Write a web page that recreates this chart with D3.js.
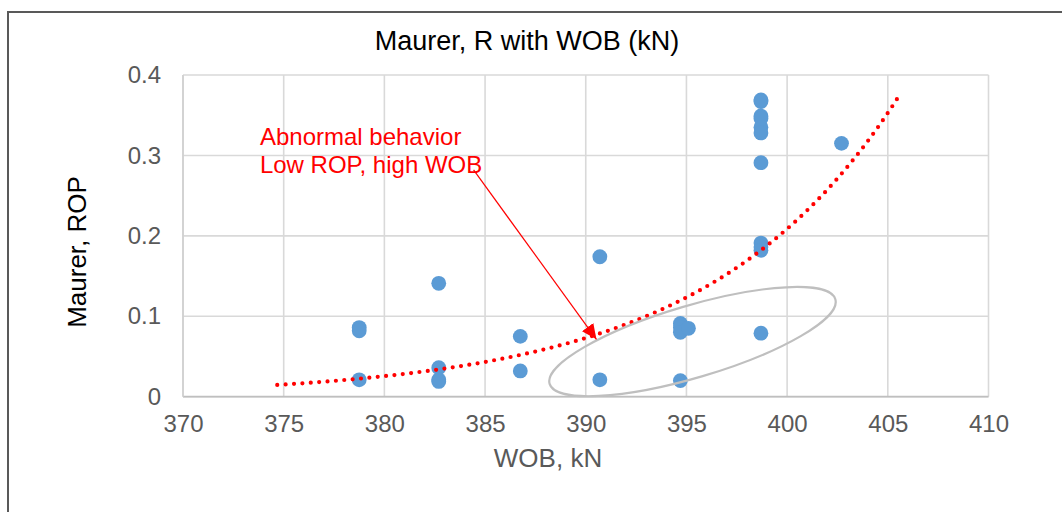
<!DOCTYPE html>
<html><head><meta charset="utf-8">
<script src="https://cdn.jsdelivr.net/npm/d3@7"></script>
<style>
html,body{margin:0;padding:0;background:#fff;}
svg{display:block;font-family:"Liberation Sans",Arial,sans-serif;}
</style></head>
<body>
<svg id="chart" width="1062" height="512"></svg>
<script>
// ---- data ----
const wob = [378.75,378.75,378.75, 382.7,382.7,382.7,382.7, 386.75,386.75, 390.7,390.7,
             394.7,394.7,394.7,394.7, 395.1,
             398.7,398.7,398.7,398.7,398.7,398.7,398.7,398.7,398.7,398.7,398.7, 402.7];
const rop = [0.086,0.082,0.021, 0.141,0.036,0.021,0.019, 0.075,0.032, 0.174,0.021,
             0.091,0.086,0.080,0.020, 0.085,
             0.369,0.367,0.349,0.346,0.335,0.328,0.291,0.191,0.186,0.182,0.079, 0.315];
const xTicks = [370,375,380,385,390,395,400,405,410];
const yTicks = [0,0.1,0.2,0.3,0.4];
const yTickLabels = ["0","0.1","0.2","0.3","0.4"];
// exponential trendline y = a*e^(b*x)
const trendA = 1.2e-19;
const trendB = 0.105;
const trendRange = [374.68, 405.6];
const title = "Maurer, R with WOB (kN)";
const xTitle = "WOB, kN";
const yTitle = "Maurer, ROP";
const noteLines = ["Abnormal behavior","Low ROP, high WOB"];
const notePos = [373.82, 0.313];
const arrowFrom = [384.43, 0.282];
const arrowTo = [390.53, 0.0714];
const ellipseCenter = [395.3, 0.0685];

// ---- chart ----
const svg = d3.select("#chart");
const x = d3.scaleLinear().domain([370,410]).range([183,988.5]);
const y = d3.scaleLinear().domain([0,0.4]).range([396.7,75]);

// outer chart border (cropped on right/bottom)
svg.append("rect").attr("x",8).attr("y",12).attr("width",1080).attr("height",520)
  .attr("fill","#fff").attr("stroke","#595959").attr("stroke-width",2);

// gridlines
svg.append("g").selectAll("line").data(xTicks).join("line")
  .attr("x1",d=>x(d)).attr("x2",d=>x(d)).attr("y1",y(0.4)).attr("y2",y(0))
  .attr("stroke","#D9D9D9").attr("stroke-width",1.6);
svg.append("g").selectAll("line").data(yTicks).join("line")
  .attr("y1",d=>y(d)).attr("y2",d=>y(d)).attr("x1",x(370)).attr("x2",x(410))
  .attr("stroke","#D9D9D9").attr("stroke-width",1.6);
// axis lines
svg.append("line").attr("x1",x(370)).attr("x2",x(410)).attr("y1",y(0)).attr("y2",y(0))
  .attr("stroke","#BFBFBF").attr("stroke-width",1.8);
svg.append("line").attr("x1",x(370)).attr("x2",x(370)).attr("y1",y(0.4)).attr("y2",y(0))
  .attr("stroke","#D0D0D0").attr("stroke-width",1.6);

// axes tick labels via d3 axes
const xAxis = d3.axisBottom(x).tickValues(xTicks).tickSize(0).tickPadding(18);
const gx = svg.append("g").attr("transform",`translate(0,${y(0)})`).call(xAxis);
gx.select(".domain").remove();
gx.selectAll("text").attr("font-size",24).attr("fill","#595959").attr("font-family","Liberation Sans, Arial, sans-serif");

const yAxis = d3.axisLeft(y).tickValues(yTicks).tickFormat((d,i)=>yTickLabels[i]).tickSize(0).tickPadding(22);
const gy = svg.append("g").attr("transform",`translate(${x(370)},0)`).call(yAxis);
gy.select(".domain").remove();
gy.selectAll("text").attr("font-size",24).attr("fill","#595959").attr("font-family","Liberation Sans, Arial, sans-serif");

// titles
svg.append("text").attr("x",527).attr("y",50).attr("text-anchor","middle")
  .attr("font-size",27).attr("fill","#000").text(title);
svg.append("text").attr("x",548).attr("y",467).attr("text-anchor","middle")
  .attr("font-size",26).attr("fill","#595959").text(xTitle);
svg.append("text").attr("transform","translate(86,252) rotate(-90)").attr("text-anchor","middle")
  .attr("font-size",26).attr("fill","#000").text(yTitle);

// points
svg.append("g").selectAll("circle").data(wob.map((w,i)=>[w,rop[i]])).join("circle")
  .attr("cx",d=>x(d[0])).attr("cy",d=>y(d[1])).attr("r",7.4).attr("fill","#5B9BD5");

// trendline
const tx = d3.range(trendRange[0], trendRange[1]+0.001, 0.1);
svg.append("path").datum(tx)
  .attr("d", d3.line().x(d=>x(d)).y(d=>y(trendA*Math.exp(trendB*d))).curve(d3.curveLinear))
  .attr("fill","none").attr("stroke","#FF0000").attr("stroke-width",4.2)
  .attr("stroke-linecap","round").attr("stroke-dasharray","0 8.4");

// ellipse annotation
svg.append("ellipse")
  .attr("transform",`translate(${x(ellipseCenter[0])},${y(ellipseCenter[1])}) rotate(-16.5)`)
  .attr("rx",149).attr("ry",36).attr("fill","none").attr("stroke","#BFBFBF").attr("stroke-width",2.2);

// arrow
const defs = svg.append("defs");
defs.append("marker").attr("id","ah").attr("markerUnits","userSpaceOnUse")
  .attr("markerWidth",16).attr("markerHeight",14).attr("refX",15).attr("refY",7).attr("orient","auto")
  .append("path").attr("d","M0,0 L15,7 L0,14 Z").attr("fill","#FF0000");
svg.append("line").attr("x1",x(arrowFrom[0])).attr("y1",y(arrowFrom[1]))
  .attr("x2",x(arrowTo[0])).attr("y2",y(arrowTo[1]))
  .attr("stroke","#FF0000").attr("stroke-width",1.2).attr("marker-end","url(#ah)");

// note text
const note = svg.append("text").attr("font-size",24).attr("fill","#FF0000");
noteLines.forEach((t,i)=>{
  note.append("tspan").attr("x",x(notePos[0])).attr("y",y(notePos[1])+i*28.3).text(t);
});
</script>
</body></html>
